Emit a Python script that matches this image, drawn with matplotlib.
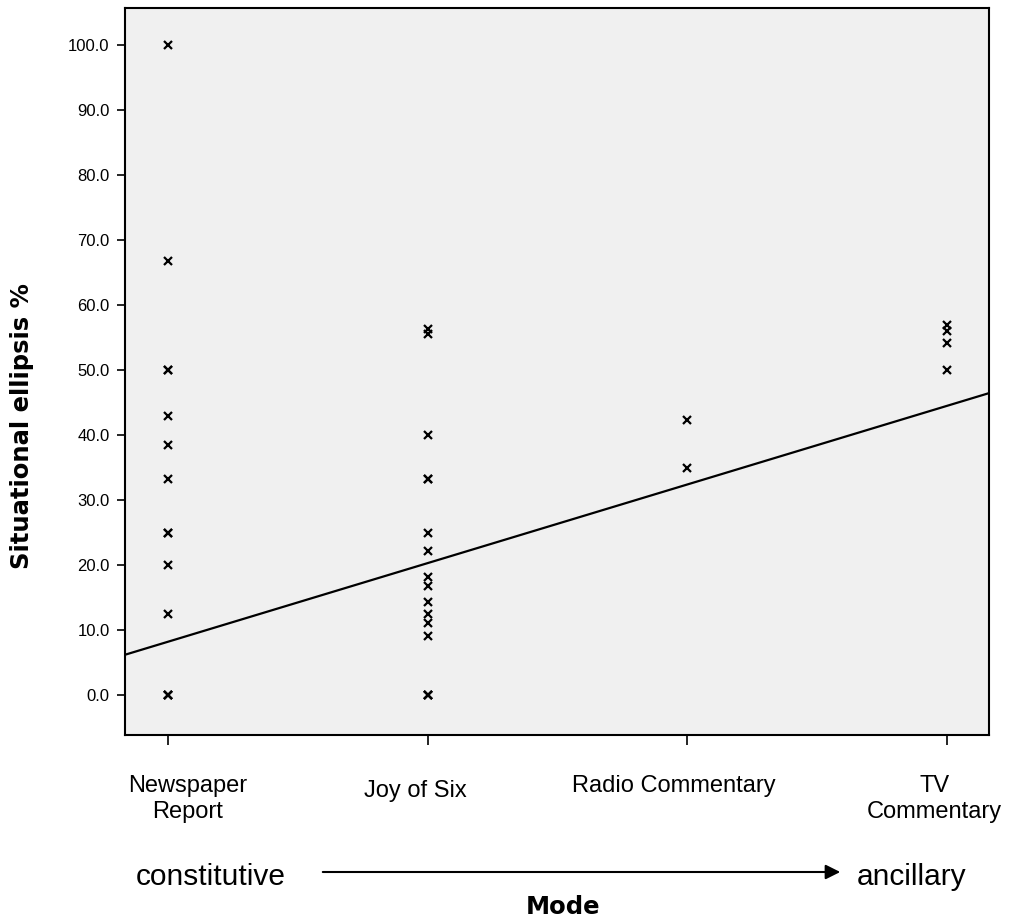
import numpy as np
import matplotlib
matplotlib.use('Agg')
import matplotlib.pyplot as plt
from matplotlib.transforms import ScaledTranslation

plt.rcParams['font.family'] = ['Liberation Sans', 'DejaVu Sans']

# data (duplicates show up as bolder crosses)
modes = ['Newspaper\nReport', 'Joy of Six', 'Radio Commentary', 'TV\nCommentary']
newspaper = [100.0, 66.7, 50.0, 50.0, 42.9, 38.5, 33.3, 25.0, 25.0, 20.0, 12.5, 0.0, 0.0, 0.0]
joy_of_six = [56.3, 55.6, 40.0, 33.3, 33.3, 25.0, 22.2, 18.2, 16.7, 14.3, 12.5, 11.1, 9.1, 0.0, 0.0, 0.0]
radio = [42.3, 35.0]
tv = [56.9, 56.0, 54.1, 50.0]
yticks = [0, 10, 20, 30, 40, 50, 60, 70, 80, 90, 100]

# fitted line shown on the chart
fit_intercept = 8.2
fit_slope = 12.1

W, H = 1016, 919
fig = plt.figure(figsize=(W / 100, H / 100), dpi=100)
ax = fig.add_axes([125 / W, 1 - 735 / H, (989 - 125) / W, (735 - 8) / H])
ax.set_facecolor('#f0f0f0')

for i, vals in enumerate([newspaper, joy_of_six, radio, tv]):
    ax.plot(np.full(len(vals), i), vals, linestyle='none', marker='x',
            color='black', markersize=6, markeredgewidth=1.6)

ax.axline((0, fit_intercept), slope=fit_slope, color='black', linewidth=1.6)

ax.set_xlim(-0.1656, 3.161)
ax.set_ylim(-6.15, 105.7)

ax.set_yticks(yticks)
ax.set_yticklabels(['{:.1f}'.format(v) for v in yticks], fontsize=12)
ax.set_xticks(range(len(modes)))
ax.set_xticklabels(modes, fontsize=17, linespacing=1.2)
ax.tick_params(axis='y', length=6, width=1.2, pad=5)
ax.tick_params(axis='x', length=7, width=1.2, pad=22)

# nudge the category labels like the original layout
shifts = [(20, 0), (-12, -5), (-14, 0), (-13, 0)]
for lbl, (dx, dy) in zip(ax.get_xticklabels(), shifts):
    lbl.set_transform(lbl.get_transform() + ScaledTranslation(dx / 100, dy / 100, fig.dpi_scale_trans))

for s in ax.spines.values():
    s.set_linewidth(1.5)

fig.text(22 / W, 1 - 426 / H, 'Situational ellipsis %', rotation=90, ha='center', va='center',
         family='DejaVu Sans', fontweight='bold', fontsize=17.5)
fig.text(563 / W, 1 - 907 / H, 'Mode', ha='center', va='center',
         family='DejaVu Sans', fontweight='bold', fontsize=17.5)

fig.text(211 / W, 1 - 885 / H, 'constitutive', ha='center', va='baseline', fontsize=21.5)
fig.text(912 / W, 1 - 885 / H, 'ancillary', ha='center', va='baseline', fontsize=21.5)
fig.patches.append(matplotlib.patches.FancyArrowPatch(
    (320 / W, 1 - 872 / H), (843 / W, 1 - 872 / H), transform=fig.transFigure,
    arrowstyle='-|>', mutation_scale=22, color='black', linewidth=1.5))

fig.savefig('out.png', dpi=100)
